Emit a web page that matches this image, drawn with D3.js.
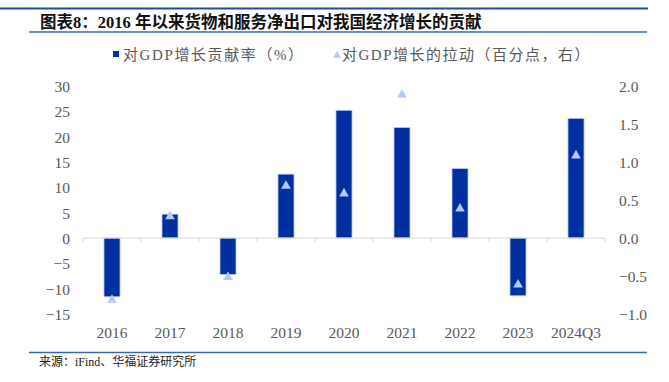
<!DOCTYPE html>
<html><head><meta charset="utf-8">
<script src="https://cdn.jsdelivr.net/npm/d3@7"></script>
<style>
html,body{margin:0;padding:0;background:#fff;}
svg{display:block;}
</style></head>
<body>
<svg id="c" width="669" height="382"></svg>
<script>
const categories = ["2016","2017","2018","2019","2020","2021","2022","2023","2024Q3"];
const contributionRate = [-11.6, 4.7, -7.2, 12.6, 25.2, 21.8, 13.7, -11.4, 23.6];
const pullPoints = [-0.8, 0.3, -0.5, 0.7, 0.6, 1.9, 0.4, -0.6, 1.1];
const leftTicks = [30,25,20,15,10,5,0,-5,-10,-15];
const rightTicks = [2.0,1.5,1.0,0.5,0.0,-0.5,-1.0];
const titleText = "图表8：2016 年以来货物和服务净出口对我国经济增长的贡献";
const legendLabels = ["对GDP增长贡献率（%）","对GDP增长的拉动（百分点，右）"];
const sourceText = "来源：iFind、华福证券研究所";

const svg = d3.select("#c");
const serif = "'Liberation Serif','Times New Roman','Noto Sans CJK SC',serif";
const barColor = "#0030a0";
const triColor = "#b4c8f6";
const textColor = "#595959";

// header
svg.append("line").attr("x1",0).attr("x2",648).attr("y1",8.5).attr("y2",8.5)
  .attr("stroke","#1f4e9c").attr("stroke-width",2);
svg.append("text").attr("x",40).attr("y",27.5)
  .attr("font-family",serif).attr("font-size",16.5).attr("font-weight","bold").attr("fill","#111")
  .text(titleText);
svg.append("line").attr("x1",29).attr("x2",647).attr("y1",32).attr("y2",32)
  .attr("stroke","#3a66b0").attr("stroke-width",1.3);

// scales
const x = d3.scaleBand().domain(categories).range([83,605]);
const yL = d3.scaleLinear().domain([-15,30]).range([314,86]);
const yR = d3.scaleLinear().domain([-1,2]).range([314,86]);

// left axis
const gl = svg.append("g").attr("transform","translate(70,0)")
  .call(d3.axisLeft(yL).tickValues(leftTicks).tickSize(0).tickPadding(0).tickFormat(d3.format("d")));
gl.select(".domain").remove();
gl.selectAll("text").attr("font-family",serif).attr("font-size",15.5).attr("fill",textColor).attr("dy","0.35em");

// right axis
const gr = svg.append("g").attr("transform","translate(619,0)")
  .call(d3.axisRight(yR).tickValues(rightTicks).tickSize(0).tickPadding(0).tickFormat(d3.format(".1f")));
gr.select(".domain").remove();
gr.selectAll("text").attr("font-family",serif).attr("font-size",15.5).attr("fill",textColor).attr("dy","0.35em");

// bars
const bw = 16;
svg.append("g").selectAll("rect").data(categories).join("rect")
  .attr("x",(d)=>x(d)+x.bandwidth()/2-bw/2)
  .attr("width",bw)
  .attr("y",(d,i)=>Math.min(yL(contributionRate[i]),yL(0)))
  .attr("height",(d,i)=>Math.abs(yL(contributionRate[i])-yL(0)))
  .attr("fill",barColor).attr("stroke","#b8c8ec").attr("stroke-width",0.8);

// category axis line
svg.append("line").attr("x1",83).attr("x2",605).attr("y1",yL(0)).attr("y2",yL(0))
  .attr("stroke","#d9d9d9").attr("stroke-width",1);
const bounds = categories.map(c=>x(c)).concat([x.range()[1]]);
svg.append("g").selectAll("line").data(bounds).join("line")
  .attr("x1",d=>d).attr("x2",d=>d).attr("y1",yL(0)).attr("y2",yL(0)+4)
  .attr("stroke","#d9d9d9").attr("stroke-width",1);

// x labels
svg.append("g").selectAll("text").data(categories).join("text")
  .attr("x",d=>x(d)+x.bandwidth()/2).attr("y",338)
  .attr("text-anchor","middle").attr("font-family",serif).attr("font-size",15.5).attr("fill",textColor)
  .text(d=>d);

// triangles
const tri = "M0,-4.6L4.8,4L-4.8,4Z";
svg.append("g").selectAll("path").data(categories).join("path")
  .attr("transform",(d,i)=>`translate(${x(d)+x.bandwidth()/2},${yR(pullPoints[i])})`)
  .attr("d",tri).attr("fill",triColor);

// legend
svg.append("rect").attr("x",113).attr("y",51).attr("width",6).attr("height",6).attr("fill",barColor);
svg.append("text").attr("x",123).attr("y",59.5).attr("font-family",serif).attr("font-size",15)
  .attr("letter-spacing",1.6).attr("fill",textColor).text(legendLabels[0]);
svg.append("path").attr("transform","translate(337,54.5)").attr("d","M0,-3.6L3.8,3.2L-3.8,3.2Z").attr("fill",triColor);
svg.append("text").attr("x",342).attr("y",59.5).attr("font-family",serif).attr("font-size",15)
  .attr("letter-spacing",1.5).attr("fill",textColor).text(legendLabels[1]);

// bottom line & source
svg.append("line").attr("x1",29).attr("x2",647).attr("y1",352.5).attr("y2",352.5)
  .attr("stroke","#3a66b0").attr("stroke-width",1.5);
svg.append("text").attr("x",39).attr("y",366).attr("font-family",serif).attr("font-size",12)
  .attr("fill","#222").text(sourceText);
</script>
</body></html>
